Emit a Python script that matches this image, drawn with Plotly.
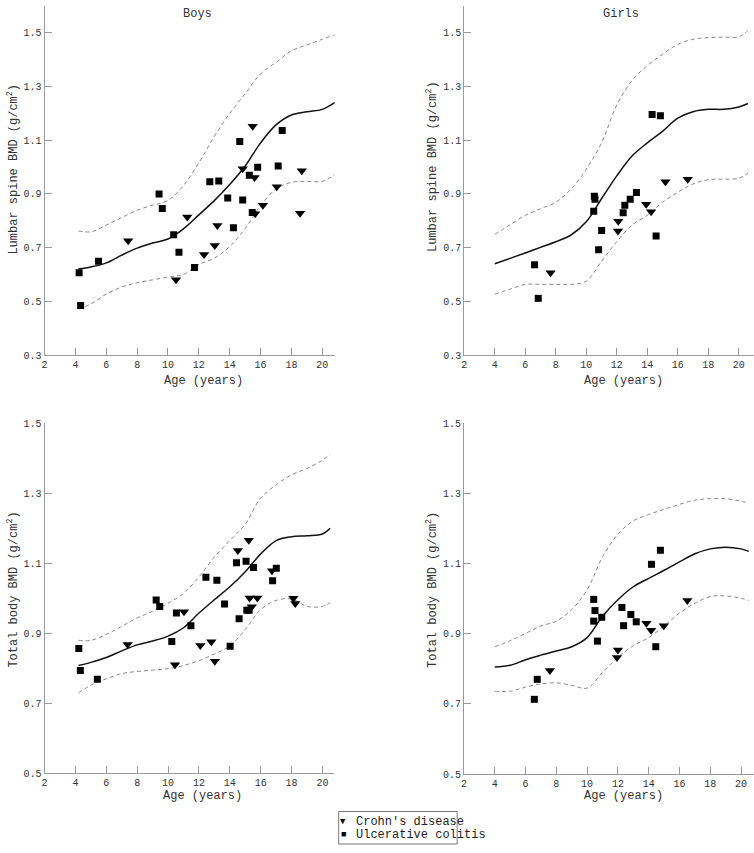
import plotly.graph_objects as go

# ---------------- data ----------------
# Boys, lumbar spine
boys_ls_uc_age = [4.24, 4.34, 5.5, 9.42, 9.63, 10.37, 10.71, 11.72, 12.71, 13.29, 13.87, 14.24, 14.65, 14.84, 15.27, 15.46, 15.81, 17.14, 17.40]
boys_ls_uc_bmd = [0.606, 0.484, 0.649, 0.900, 0.846, 0.748, 0.683, 0.626, 0.945, 0.948, 0.885, 0.774, 1.095, 0.877, 0.970, 0.831, 0.999, 1.004, 1.136]
boys_ls_cd_age = [7.42, 10.52, 11.25, 12.34, 13.03, 13.2, 14.84, 15.49, 15.61, 15.65, 16.15, 17.05, 18.56, 18.67]
boys_ls_cd_bmd = [0.726, 0.580, 0.814, 0.674, 0.708, 0.782, 0.994, 1.152, 0.961, 0.826, 0.858, 0.927, 0.828, 0.986]

# Girls, lumbar spine
girls_ls_uc_age = [6.61, 6.85, 10.53, 10.57, 10.49, 11.01, 10.81, 12.42, 12.53, 12.88, 13.29, 14.32, 14.86, 14.58]
girls_ls_uc_bmd = [0.636, 0.511, 0.891, 0.880, 0.835, 0.764, 0.692, 0.830, 0.858, 0.880, 0.905, 1.196, 1.191, 0.743]
girls_ls_cd_age = [7.66, 12.10, 12.08, 13.93, 14.25, 15.19, 16.65]
girls_ls_cd_bmd = [0.606, 0.798, 0.762, 0.862, 0.834, 0.945, 0.955]

# Boys, total body
boys_tb_uc_age = [4.22, 4.32, 5.42, 9.23, 9.46, 10.24, 10.54, 11.48, 12.45, 13.16, 13.66, 14.02, 14.43, 14.60, 15.05, 15.10, 15.25, 15.53, 16.77, 17.01]
boys_tb_uc_bmd = [0.857, 0.794, 0.769, 0.995, 0.977, 0.877, 0.958, 0.922, 1.060, 1.052, 0.984, 0.863, 1.102, 0.942, 1.106, 0.966, 0.966, 1.088, 1.050, 1.086]
boys_tb_cd_age = [7.38, 10.45, 11.03, 12.09, 12.80, 13.03, 14.52, 15.23, 15.28, 15.42, 15.78, 16.73, 18.11, 18.24]
boys_tb_cd_bmd = [0.868, 0.810, 0.962, 0.865, 0.876, 0.820, 1.137, 1.166, 1.001, 0.976, 1.001, 1.079, 1.000, 0.985]

# Girls, total body
girls_tb_uc_age = [6.57, 6.76, 10.43, 10.51, 10.43, 10.95, 10.67, 12.26, 12.37, 12.84, 13.19, 14.18, 14.76, 14.46]
girls_tb_uc_bmd = [0.713, 0.770, 0.998, 0.966, 0.936, 0.947, 0.879, 0.975, 0.923, 0.955, 0.934, 1.098, 1.138, 0.863]
girls_tb_cd_age = [7.58, 12.00, 11.94, 13.85, 14.16, 14.98, 16.51]
girls_tb_cd_bmd = [0.795, 0.854, 0.832, 0.930, 0.910, 0.923, 0.995]

# Reference curves (mean and +/-2SD)
boys_ls_ref_age = [4.2, 5, 6, 7, 8, 9, 10, 11, 12, 13, 14, 15, 16, 17, 18, 19, 20, 20.8]
boys_ls_mean = [0.621, 0.628, 0.643, 0.672, 0.698, 0.717, 0.732, 0.770, 0.822, 0.875, 0.935, 1.004, 1.090, 1.157, 1.194, 1.206, 1.215, 1.240]
boys_ls_upper = [0.762, 0.759, 0.784, 0.812, 0.839, 0.858, 0.876, 0.931, 1.016, 1.114, 1.200, 1.273, 1.347, 1.390, 1.433, 1.455, 1.476, 1.492]
boys_ls_lower = [0.471, 0.490, 0.527, 0.553, 0.569, 0.580, 0.590, 0.600, 0.637, 0.661, 0.704, 0.771, 0.857, 0.918, 0.943, 0.947, 0.947, 0.971]

girls_ls_ref_age = [4, 5, 6, 7, 8, 9, 10, 11, 12, 13, 14, 15, 16, 17, 18, 19, 20, 20.6]
girls_ls_mean = [0.640, 0.660, 0.680, 0.701, 0.722, 0.747, 0.796, 0.882, 0.967, 1.041, 1.090, 1.133, 1.182, 1.206, 1.215, 1.215, 1.224, 1.237]
girls_ls_upper = [0.749, 0.785, 0.820, 0.845, 0.869, 0.918, 0.992, 1.090, 1.231, 1.322, 1.378, 1.420, 1.457, 1.476, 1.482, 1.484, 1.485, 1.509]
girls_ls_lower = [0.527, 0.545, 0.563, 0.563, 0.563, 0.563, 0.575, 0.649, 0.722, 0.784, 0.820, 0.869, 0.906, 0.937, 0.953, 0.955, 0.958, 0.977]

boys_tb_ref_age = [4.2, 5, 6, 7, 8, 9, 10, 11, 12, 13, 14, 15, 16, 17, 18, 19, 20, 20.5]
boys_tb_mean = [0.808, 0.817, 0.831, 0.850, 0.867, 0.878, 0.892, 0.916, 0.958, 0.996, 1.033, 1.076, 1.127, 1.165, 1.176, 1.179, 1.184, 1.200]
boys_tb_upper = [0.880, 0.880, 0.897, 0.920, 0.944, 0.963, 0.986, 1.014, 1.061, 1.118, 1.165, 1.212, 1.287, 1.324, 1.353, 1.371, 1.395, 1.411]
boys_tb_lower = [0.730, 0.752, 0.770, 0.785, 0.791, 0.795, 0.799, 0.808, 0.822, 0.841, 0.864, 0.911, 0.968, 0.994, 0.998, 0.977, 0.977, 0.988]

girls_tb_ref_age = [4, 5, 6, 7, 8, 9, 10, 11, 12, 13, 14, 15, 16, 17, 18, 19, 20, 20.5]
girls_tb_mean = [0.805, 0.810, 0.826, 0.839, 0.851, 0.863, 0.889, 0.950, 0.997, 1.034, 1.058, 1.081, 1.105, 1.128, 1.142, 1.147, 1.142, 1.135]
girls_tb_upper = [0.863, 0.880, 0.901, 0.922, 0.936, 0.969, 1.025, 1.119, 1.184, 1.222, 1.240, 1.255, 1.269, 1.281, 1.285, 1.285, 1.278, 1.273]
girls_tb_lower = [0.736, 0.736, 0.748, 0.757, 0.760, 0.753, 0.745, 0.790, 0.833, 0.866, 0.889, 0.922, 0.959, 0.987, 1.006, 1.008, 1.001, 0.995]

x_tickvals = [2, 4, 6, 8, 10, 12, 14, 16, 18, 20]
y_tickvals_ls = [0.3, 0.5, 0.7, 0.9, 1.1, 1.3, 1.5]
y_tickvals_tb = [0.5, 0.7, 0.9, 1.1, 1.3, 1.5]

# ---------------- figure ----------------
FONT = "Liberation Mono, Courier New, monospace"
AX_COL = "#9a9a9a"
DASH_COL = "#8a8a8a"
W, H = 754, 853

fig = go.Figure()

panels = [
    ("x", "y", boys_ls_uc_age, boys_ls_uc_bmd, boys_ls_cd_age, boys_ls_cd_bmd,
     boys_ls_ref_age, boys_ls_mean, boys_ls_upper, boys_ls_lower),
    ("x2", "y2", girls_ls_uc_age, girls_ls_uc_bmd, girls_ls_cd_age, girls_ls_cd_bmd,
     girls_ls_ref_age, girls_ls_mean, girls_ls_upper, girls_ls_lower),
    ("x3", "y3", boys_tb_uc_age, boys_tb_uc_bmd, boys_tb_cd_age, boys_tb_cd_bmd,
     boys_tb_ref_age, boys_tb_mean, boys_tb_upper, boys_tb_lower),
    ("x4", "y4", girls_tb_uc_age, girls_tb_uc_bmd, girls_tb_cd_age, girls_tb_cd_bmd,
     girls_tb_ref_age, girls_tb_mean, girls_tb_upper, girls_tb_lower),
]

for xa, ya, uc_x, uc_y, cd_x, cd_y, rx, rm, ru, rl in panels:
    for band in (ru, rl):
        fig.add_trace(go.Scatter(x=rx, y=band, mode="lines", xaxis=xa, yaxis=ya,
                                 line=dict(color=DASH_COL, width=1, dash="4px,3px", shape="spline", smoothing=1.0),
                                 showlegend=False, hoverinfo="skip"))
    fig.add_trace(go.Scatter(x=rx, y=rm, mode="lines", xaxis=xa, yaxis=ya,
                             line=dict(color="#111111", width=1.5, shape="spline", smoothing=1.0),
                             showlegend=False, hoverinfo="skip"))
    fig.add_trace(go.Scatter(x=cd_x, y=cd_y, mode="markers", xaxis=xa, yaxis=ya, name="Crohn's disease",
                             marker=dict(symbol="triangle-down", size=9, color="#000000"),
                             showlegend=False))
    fig.add_trace(go.Scatter(x=uc_x, y=uc_y, mode="markers", xaxis=xa, yaxis=ya, name="Ulcerative colitis",
                             marker=dict(symbol="square", size=7, color="#000000"),
                             showlegend=False))

def px_x(p):
    return p / W

def px_y(p):
    return (H - p) / H

axis_common = dict(showline=True, linecolor=AX_COL, linewidth=1, ticks="inside", ticklen=7,
                   tickcolor=AX_COL, tickwidth=1, showgrid=False, zeroline=False, mirror=False,
                   tickfont=dict(family=FONT, size=10, color="#333333"), fixedrange=True)

layout_axes = {
    "xaxis": dict(domain=[px_x(41.7), px_x(333.3)], range=[2, 20.82], anchor="y", tickvals=x_tickvals, **axis_common),
    "yaxis": dict(domain=[px_y(355), px_y(1.0)], range=[0.3, 1.6], anchor="x", tickvals=y_tickvals_ls,
                  tickformat=".1f", **axis_common),
    "xaxis2": dict(domain=[px_x(463.1), 1.0], range=[2, 21.0], anchor="y2", tickvals=x_tickvals, **axis_common),
    "yaxis2": dict(domain=[px_y(355), px_y(1.0)], range=[0.3, 1.6], anchor="x2", tickvals=y_tickvals_ls,
                   tickformat=".1f", **axis_common),
    "xaxis3": dict(domain=[px_x(41.7), px_x(332.7)], range=[2, 20.77], anchor="y3", tickvals=x_tickvals, **axis_common),
    "yaxis3": dict(domain=[px_y(779.3), px_y(424.3)], range=[0.5, 1.5], anchor="x3", tickvals=y_tickvals_tb,
                   tickformat=".1f", **axis_common),
    "xaxis4": dict(domain=[px_x(462.8), 1.0], range=[2, 20.84], anchor="y4", tickvals=x_tickvals, **axis_common),
    "yaxis4": dict(domain=[px_y(780), px_y(424.3)], range=[0.5, 1.5], anchor="x4", tickvals=y_tickvals_tb,
                   tickformat=".1f", **axis_common),
}

annots = []
def txt(text, x, y, size=12, angle=0, xanchor="center", color="#333333"):
    annots.append(dict(text=text, x=px_x(x), y=px_y(y), xref="paper", yref="paper", showarrow=False,
                       xanchor=xanchor, yanchor="middle", textangle=angle,
                       font=dict(family=FONT, size=size, color=color)))

txt("Boys", 195, 9)
txt("Girls", 620, 9)
txt("Age (years)", 201.5, 381)
txt("Age (years)", 622.8, 381)
txt("Age (years)", 200, 802)
txt("Age (years)", 623, 802)
txt("Lumbar spine BMD (g/cm<sup>2</sup>)", 10, 166, angle=-90)
txt("Lumbar spine BMD (g/cm<sup>2</sup>)", 430, 164, angle=-90)
txt("Total body BMD (g/cm<sup>2</sup>)", 10, 593, angle=-90)
txt("Total body BMD (g/cm<sup>2</sup>)", 430, 593, angle=-90)

# legend (drawn as box + text)
txt("\u25bc", 341.7, 828.5, size=9, color="#000000")
txt("\u25a0", 341.7, 842, size=9, color="#000000")
txt("Crohn's disease", 352.5, 829, size=12, xanchor="left", color="#222222")
txt("Ulcerative colitis", 352.5, 842, size=12, xanchor="left", color="#222222")

fig.update_layout(
    width=W, height=H,
    margin=dict(l=0, r=0, t=0, b=0),
    paper_bgcolor="white", plot_bgcolor="white",
    showlegend=False,
    annotations=annots,
    shapes=[dict(type="rect", xref="paper", yref="paper",
                 x0=px_x(337), x1=px_x(456), y0=px_y(851), y1=px_y(818),
                 line=dict(color="#777777", width=1), fillcolor="rgba(0,0,0,0)")],
    **layout_axes,
)

fig.write_html("out.html",
               config={"displayModeBar": False},
               post_script="document.body.style.margin='0px';document.body.style.overflow='hidden';")
